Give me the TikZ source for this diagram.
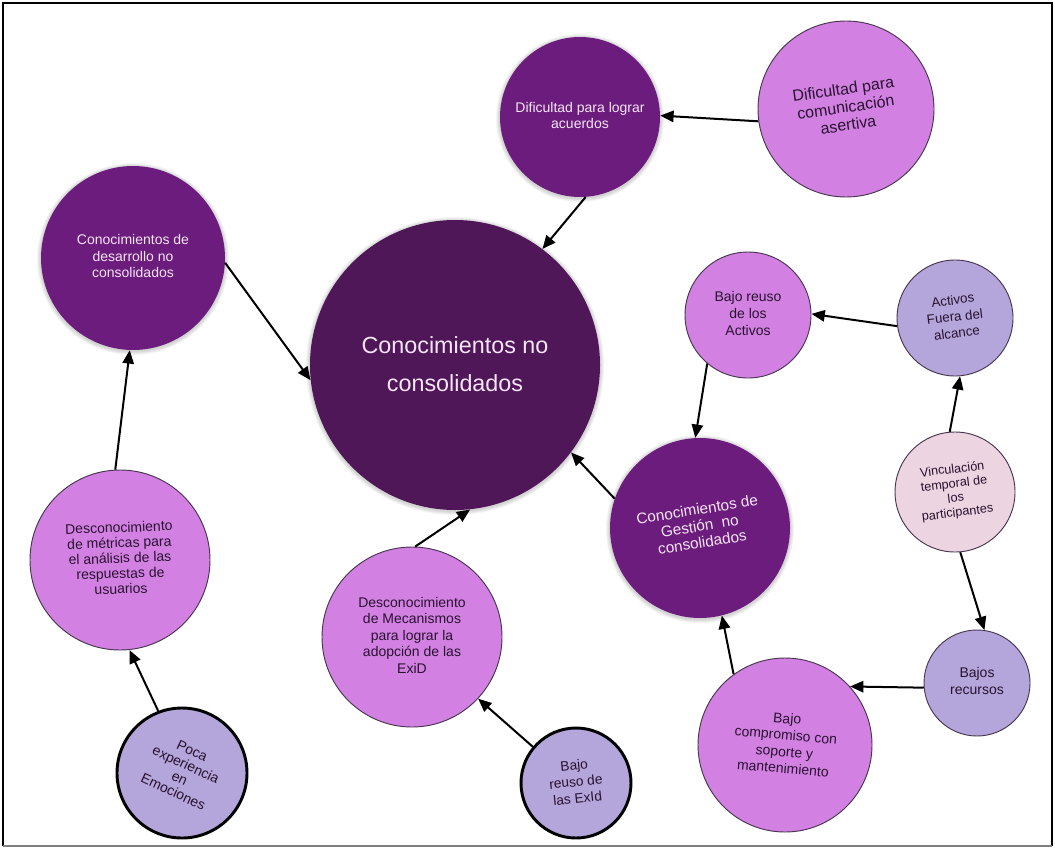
\documentclass[tikz,border=0pt]{standalone}
\usepackage{fontspec}
\usepackage{graphicx}
\setmainfont{Liberation Sans}
\usetikzlibrary{arrows.meta}

\definecolor{deep}{RGB}{79,22,88}
\definecolor{plum}{RGB}{108,28,124}
\definecolor{orchid}{RGB}{210,128,226}
\definecolor{lav}{RGB}{180,166,218}
\definecolor{blush}{RGB}{236,212,225}
\definecolor{inkdark}{RGB}{40,18,48}
\definecolor{inklight}{RGB}{246,230,248}

% rotated, centred multi-line label: angle, font size, line skip, lines
\newcommand{\ctext}[4]{\rotatebox{#1}{\fontsize{#2}{#3}\selectfont\begin{tabular}{@{}c@{}}#4\end{tabular}}}
% soft halo under a dark bubble: x, y, radius (px)
\newcommand{\halo}[3]{\foreach \k in {1,...,4}{\fill[black, opacity=0.045] (#1,#2+1) circle[radius=#3+\k];}}

\tikzset{
  bubble/.style={circle, inner sep=0pt, minimum size=#1},
  deepbub/.style={bubble=#1, fill=deep, text=inklight},
  plumbub/.style={bubble=#1, fill=plum, text=inklight},
  orchidbub/.style={bubble=#1, fill=orchid, draw=inkdark!85, line width=0.7pt, text=inkdark},
  lavbub/.style={bubble=#1, fill=lav, draw=inkdark!85, line width=0.7pt, text=inkdark},
  lavbold/.style={bubble=#1, fill=lav, draw=black, line width=2.2pt, text=inkdark},
  blushbub/.style={bubble=#1, fill=blush, draw=inkdark!85, line width=0.7pt, text=inkdark},
  link/.style={-{Triangle[length=10pt,width=8.5pt]}, line width=1.5pt, black}
}

\begin{document}
\begin{tikzpicture}[x=0.75pt, y=-0.75pt]
\useasboundingbox (0,0) rectangle (1055,849);
\fill[white] (0,0) rectangle (1055,849);

% frame
\draw[black, line width=2pt] (3,846) -- (3,3) -- (1052,3) -- (1052,846);
\draw[gray, line width=2pt] (3,846) -- (1052,846);

% halos under the dark bubbles
\halo{455}{365}{145}
\halo{580}{117}{80}
\halo{133}{258}{92}
\halo{700}{528}{90}

% bubbles
\node[deepbub=217.5pt] (core) at (455,365)
  {\ctext{0}{17.5pt}{28pt}{Conocimientos no\\consolidados}};
\node[plumbub=120pt] (acu) at (580,117)
  {\ctext{0}{10.5pt}{12.5pt}{Dificultad para lograr\\acuerdos}};
\node[orchidbub=132pt] (com) at (846,109)
  {\ctext{8}{12pt}{13.5pt}{Dificultad para\\comunicación\\asertiva}};
\node[plumbub=138pt] (dev) at (133,258)
  {\ctext{0}{10.5pt}{12.4pt}{Conocimientos de\\desarrollo no\\consolidados}};
\node[orchidbub=135pt] (met) at (120,560)
  {\ctext{2}{10.5pt}{11.5pt}{Desconocimiento\\de métricas para\\el análisis de las\\respuestas de\\usuarios}};
\node[lavbold=97.5pt] (emo) at (182,773)
  {\ctext{-25}{10.5pt}{11.2pt}{Poca\\experiencia\\en\\Emociones}};
\node[orchidbub=135pt] (mec) at (412,637)
  {\ctext{0}{10.5pt}{12.4pt}{Desconocimiento\\de Mecanismos\\para lograr la\\adopción de las\\ExiD}};
\node[lavbold=82.5pt] (exid) at (576,783)
  {\ctext{6}{10.3pt}{12.5pt}{Bajo\\reuso de\\las ExId}};
\node[plumbub=135pt] (ges) at (700,528)
  {\ctext{9}{11.5pt}{12.5pt}{Conocimientos de\\Gestión\ \ no\\consolidados}};
\node[orchidbub=94.5pt] (reu) at (748,315)
  {\ctext{0}{10.5pt}{12.7pt}{Bajo reuso\\de los\\Activos}};
\node[lavbub=87pt] (fue) at (955,318)
  {\ctext{7}{10pt}{12.5pt}{Activos\\Fuera del\\alcance}};
\node[blushbub=90pt] (vin) at (955,492)
  {\ctext{7}{9.5pt}{10.9pt}{Vinculación\\temporal de\\los\\participantes}};
\node[lavbub=79.5pt] (rec) at (977,683)
  {\ctext{0}{10.5pt}{12.7pt}{Bajos\\recursos}};
\node[orchidbub=130.5pt] (sop) at (785,745)
  {\ctext{-5}{10.5pt}{12.5pt}{Bajo\\compromiso con\\soporte y\\mantenimiento}};

% connectors
\draw[link] (com.188) -- (acu.1);
\draw[link] (acu.274) -- (core.53);
\draw[link] (dev.357) -- (core.186);
\draw[link] (met.93) -- (dev.268);
\draw[link] (emo.111) -- (met.276);
\draw[link] (mec.88) -- (core.276);
\draw[link] (exid.140) -- (mec.317);
\draw[link] (ges.161) -- (core.323);
\draw[link] (reu.230) -- (ges.93);
\draw[link] (fue.188) -- (reu.1);
\draw[link] (vin.95) -- (fue.275);
\draw[link] (vin.275) -- (rec.82);
\draw[link] (rec.185) -- (sop.42);
\draw[link] (sop.126) -- (ges.284);
\end{tikzpicture}
\end{document}
